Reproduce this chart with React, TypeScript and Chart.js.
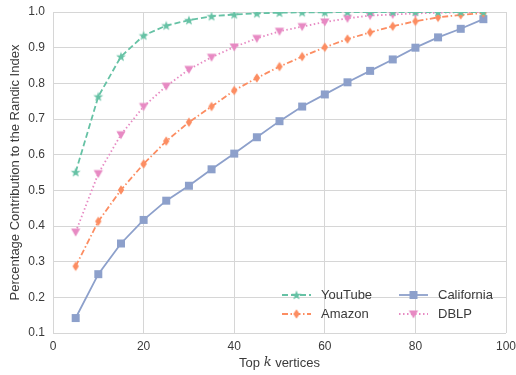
import React, { useEffect, useRef } from "react";
import { Chart, registerables } from "chart.js";

Chart.register(...registerables);

// Top-k vertex counts on the x axis
const topK = [5, 10, 15, 20, 25, 30, 35, 40, 45, 50, 55, 60, 65, 70, 75, 80, 85, 90, 95];

// Share of the Randic index covered by the top-k vertices, per network
const youtube = [0.551, 0.763, 0.875, 0.934, 0.962, 0.977, 0.988, 0.993, 0.996, 0.998, 0.999, 0.999, 1.0, 1.0, 1.0, 1.0, 1.0, 1.0, 1.0];
const amazon = [0.287, 0.413, 0.501, 0.574, 0.638, 0.691, 0.735, 0.78, 0.815, 0.847, 0.875, 0.901, 0.924, 0.943, 0.96, 0.974, 0.985, 0.992, 0.997];
const california = [0.142, 0.265, 0.351, 0.417, 0.471, 0.513, 0.559, 0.603, 0.649, 0.694, 0.735, 0.769, 0.803, 0.835, 0.867, 0.9, 0.929, 0.953, 0.98];
const dblp = [0.383, 0.547, 0.656, 0.735, 0.792, 0.839, 0.873, 0.902, 0.926, 0.946, 0.959, 0.972, 0.982, 0.99, 0.993, 0.996, 0.998, 0.999, 1.0];

const xTicks = [0, 20, 40, 60, 80, 100];
const yTicks = [0.1, 0.2, 0.3, 0.4, 0.5, 0.6, 0.7, 0.8, 0.9, 1.0];

const FONT = "'Liberation Sans', Arial, sans-serif";
const TEXT = "#3a3a3a";
const GRID = "#d6d6d6";

type Shape = "star" | "thinDiamond" | "square" | "triangleDown";

function makeMarker(shape: Shape, color: string): HTMLCanvasElement {
  const c = document.createElement("canvas");
  const size = 12;
  c.width = size;
  c.height = size;
  const g = c.getContext("2d")!;
  const cx = size / 2;
  const cy = size / 2;
  g.fillStyle = color;
  g.beginPath();
  if (shape === "star") {
    const ro = 5.2;
    const ri = 2.1;
    for (let i = 0; i < 10; i++) {
      const r = i % 2 === 0 ? ro : ri;
      const a = -Math.PI / 2 + (i * Math.PI) / 5;
      const px = cx + r * Math.cos(a);
      const py = cy + 0.4 + r * Math.sin(a);
      if (i === 0) g.moveTo(px, py);
      else g.lineTo(px, py);
    }
  } else if (shape === "thinDiamond") {
    g.moveTo(cx, cy - 4.8);
    g.lineTo(cx + 3.2, cy);
    g.lineTo(cx, cy + 4.8);
    g.lineTo(cx - 3.2, cy);
  } else if (shape === "square") {
    g.rect(cx - 4, cy - 4, 8, 8);
  } else {
    g.moveTo(cx - 4.6, cy - 3.6);
    g.lineTo(cx + 4.6, cy - 3.6);
    g.lineTo(cx, cy + 4.4);
  }
  g.closePath();
  g.fill();
  return c;
}

interface SeriesDef {
  label: string;
  values: number[];
  color: string;
  dash: number[];
  shape: Shape;
}

const series: SeriesDef[] = [
  { label: "YouTube", values: youtube, color: "#66c2a5", dash: [6, 3], shape: "star" },
  { label: "Amazon", values: amazon, color: "#fc8d62", dash: [6, 2.5, 1.5, 2.5], shape: "thinDiamond" },
  { label: "California", values: california, color: "#8da0cb", dash: [], shape: "square" },
  { label: "DBLP", values: dblp, color: "#e78ac3", dash: [1.5, 2.5], shape: "triangleDown" },
];

export default function App() {
  const ref = useRef<HTMLCanvasElement | null>(null);

  useEffect(() => {
    const canvas = ref.current;
    if (!canvas) return;

    const markers = series.map((s) => makeMarker(s.shape, s.color));

    const decorations = {
      id: "decorations",
      afterDraw(chart: any) {
        const { ctx, chartArea } = chart;
        ctx.save();
        ctx.fillStyle = TEXT;
        ctx.textBaseline = "middle";

        // x-axis title: "Top k vertices" with italic k
        const sans = `13px ${FONT}`;
        const ital = `italic 13px 'DejaVu Serif', serif`;
        const p1 = "Top ";
        const p3 = " vertices";
        ctx.font = sans;
        const w1 = ctx.measureText(p1).width;
        const w3 = ctx.measureText(p3).width;
        ctx.font = ital;
        const w2 = ctx.measureText("k").width;
        const total = w1 + w2 + w3;
        let x = (chartArea.left + chartArea.right) / 2 - total / 2;
        const ty = 363;
        ctx.textAlign = "left";
        ctx.font = sans;
        ctx.fillText(p1, x, ty);
        x += w1;
        ctx.font = ital;
        ctx.fillText("k", x, ty);
        x += w2;
        ctx.font = sans;
        ctx.fillText(p3, x, ty);

        // y-axis title
        ctx.save();
        ctx.translate(15, (chartArea.top + chartArea.bottom) / 2);
        ctx.rotate(-Math.PI / 2);
        ctx.textAlign = "center";
        ctx.font = sans;
        ctx.fillText("Percentage Contribution to the Randic Index", 0, 0);
        ctx.restore();

        // legend: two columns, column-major order
        const cols = [282, 399];
        const rows = [295, 314];
        const handleLen = 29;
        ctx.font = sans;
        series.forEach((s, i) => {
          const lx = cols[Math.floor(i / 2)];
          const ly = rows[i % 2];
          ctx.save();
          ctx.strokeStyle = s.color;
          ctx.lineWidth = 1.8;
          ctx.setLineDash(s.dash);
          ctx.beginPath();
          ctx.moveTo(lx, ly);
          ctx.lineTo(lx + handleLen, ly);
          ctx.stroke();
          ctx.restore();
          const m = markers[i];
          ctx.drawImage(m, lx + handleLen / 2 - m.width / 2, ly - m.height / 2);
          ctx.fillStyle = TEXT;
          ctx.textAlign = "left";
          ctx.fillText(s.label, lx + handleLen + 10, ly + 0.5);
        });
        ctx.restore();
      },
    };

    const chart = new Chart(canvas, {
      type: "line",
      data: {
        datasets: series.map((s, i) => ({
          label: s.label,
          data: topK.map((k, j) => ({ x: k, y: s.values[j] })),
          borderColor: s.color,
          backgroundColor: s.color,
          borderWidth: 1.8,
          borderDash: s.dash,
          pointStyle: markers[i] as any,
          pointRadius: 5,
          pointHoverRadius: 5,
          fill: false,
          tension: 0,
          clip: 0,
        })),
      },
      options: {
        animation: false,
        responsive: false,
        devicePixelRatio: 1,
        layout: { padding: { top: 12, right: 10, left: 0, bottom: 0 } },
        plugins: {
          legend: { display: false },
          tooltip: { enabled: false },
          title: { display: false },
        },
        scales: {
          x: {
            type: "linear",
            min: 0,
            max: 100,
            afterFit: (s: any) => {
              s.height = 42;
              s.paddingLeft = 0;
              s.paddingRight = 0;
            },
            afterBuildTicks: (s: any) => {
              s.ticks = xTicks.map((v) => ({ value: v }));
            },
            ticks: {
              color: TEXT,
              font: { family: FONT, size: 12 },
              padding: 6,
              maxRotation: 0,
              callback: (v: any) => String(v),
            },
            grid: { color: GRID, lineWidth: 1, drawTicks: false },
            border: { display: false },
          },
          y: {
            type: "linear",
            min: 0.1,
            max: 1.0,
            afterFit: (s: any) => {
              s.width = 53;
              s.paddingTop = 0;
              s.paddingBottom = 0;
            },
            afterBuildTicks: (s: any) => {
              s.ticks = yTicks.map((v) => ({ value: v }));
            },
            ticks: {
              color: TEXT,
              font: { family: FONT, size: 12 },
              padding: 8,
              callback: (v: any) => Number(v).toFixed(1),
            },
            grid: { color: GRID, lineWidth: 1, drawTicks: false },
            border: { display: false },
          },
        },
      },
      plugins: [decorations],
    });

    return () => chart.destroy();
  }, []);

  return (
    <div style={{ position: "fixed", left: 0, top: 0, width: 516, height: 375, background: "#fff" }}>
      <canvas ref={ref} width={516} height={375} />
    </div>
  );
}
